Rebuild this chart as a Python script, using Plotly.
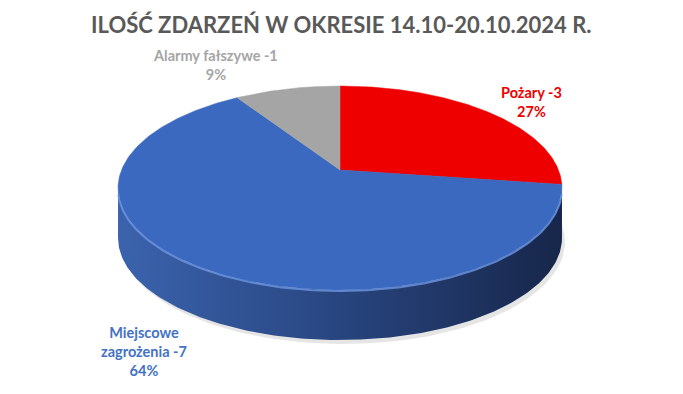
import numpy as np
import plotly.graph_objects as go

# ---- data ----
categories = ["Pożary", "Miejscowe zagrożenia", "Alarmy fałszywe"]
values = [3, 7, 1]
label_lines = [["Pożary -3"], ["Miejscowe", "zagrożenia -7"], ["Alarmy fałszywe -1"]]
title_text = "ILOŚĆ ZDARZEŃ W OKRESIE 14.10-20.10.2024 R."

# ---- style ----
top_colors = ["#EE0000", "#3A69BF", "#A5A5A5"]
label_colors = ["#EE0000", "#4472C4", "#A5A5A5"]
side_scales = [
    [[0, "#a00000"], [1, "#5a0000"]],
    [[0, "#3b63ad"], [0.45, "#2a4884"], [1, "#17264a"]],
    [[0, "#7a7a7a"], [1, "#4a4a4a"]],
]
W, H = 683, 394
CX, CY = 340, 170       # projected pie centre (px)
S, SX, K = 98.8, 218.5, 0.1765
DEPTH = 50
label_pos = [(531, 102), (144, 351), (215, 65)]
LABEL_FONT = "Lato"


def proj(theta):
    X, Y = np.sin(theta), np.cos(theta)
    d = 1 + K * Y
    return CX + SX * X / d, CY - S * Y / d


total = sum(values)
fracs = [v / total for v in values]
starts = np.cumsum([0] + fracs[:-1]) * 2 * np.pi
ends = np.cumsum(fracs) * 2 * np.pi

# silhouette angles (rightmost / leftmost rim points)
tt = np.linspace(0, 2 * np.pi, 3601)
xx, _ = proj(tt)
th_r, th_l = tt[np.argmax(xx)], tt[np.argmin(xx)]

fig = go.Figure()

# soft shadow beneath
ts = np.linspace(0, 2 * np.pi, 200)
sx_, sy_ = proj(ts)
fig.add_trace(go.Scatter(x=sx_ + 3, y=sy_ + DEPTH + 4, fill="toself", mode="lines",
                         line=dict(width=0), fillcolor="rgba(0,0,0,0.10)",
                         hoverinfo="skip", showlegend=False))

# side walls
for i in range(len(values)):
    a0, a1 = max(starts[i], th_r), min(ends[i], th_l)
    if a1 <= a0:
        continue
    t = np.linspace(a0, a1, 200)
    x, y = proj(t)
    px = np.concatenate([x, x[::-1]])
    py = np.concatenate([y, (y + DEPTH)[::-1]])
    fig.add_trace(go.Scatter(x=px, y=py, fill="toself", mode="lines",
                             line=dict(width=0),
                             fillgradient=dict(type="horizontal", colorscale=side_scales[i]),
                             hoverinfo="skip", showlegend=False))

# top faces
for i in range(len(values)):
    t = np.linspace(starts[i], ends[i], 300)
    x, y = proj(t)
    px = np.concatenate([[CX], x, [CX]])
    py = np.concatenate([[CY], y, [CY]])
    fig.add_trace(go.Scatter(x=px, y=py, fill="toself", mode="lines",
                             line=dict(width=0.5, color=top_colors[i]),
                             fillcolor=top_colors[i],
                             hoverinfo="skip", showlegend=False))

# bevel highlight on front rim
t = np.linspace(th_r + 0.05, th_l - 0.05, 200)
x, y = proj(t)
fig.add_trace(go.Scatter(x=x, y=y + 1, mode="lines",
                         line=dict(width=2, color="rgba(110,150,225,0.8)"),
                         hoverinfo="skip", showlegend=False))

# labels
for i in range(len(values)):
    pct = round(fracs[i] * 100)
    txt = "<br>".join(f"<b>{s}</b>" for s in label_lines[i] + [f"{pct}%"])
    fig.add_annotation(x=label_pos[i][0], y=label_pos[i][1], text=txt,
                       showarrow=False, xref="x", yref="y",
                       font=dict(family=LABEL_FONT, size=14.5, color=label_colors[i]),
                       align="center")

fig.add_annotation(x=341, y=24, text=f"<b>{title_text}</b>", showarrow=False,
                   xref="x", yref="y",
                   font=dict(family="Lato", size=22, color="#595959"))

fig.update_layout(
    width=W, height=H, margin=dict(l=0, r=0, t=0, b=0),
    paper_bgcolor="white", plot_bgcolor="white",
    xaxis=dict(range=[0, W], visible=False, fixedrange=True),
    yaxis=dict(range=[H, 0], visible=False, fixedrange=True),
    hovermode=False,
)
fig.write_html("out.html")
